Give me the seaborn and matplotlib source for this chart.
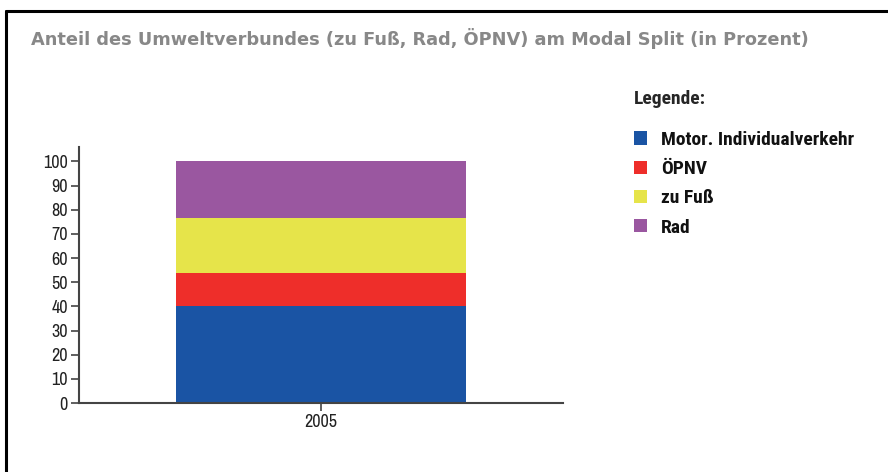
import matplotlib.pyplot as plt
import seaborn as sns
import pandas as pd
from matplotlib.patches import Patch
from matplotlib.lines import Line2D

sns.set_theme(style="white")
narrow = ["Archivo Narrow", "DejaVu Sans"]
narrow_bold = ["Roboto Condensed", "PT Sans Narrow", "DejaVu Sans"]

years = ["2005"]
modes = ["Motor. Individualverkehr", "ÖPNV", "zu Fuß", "Rad"]
shares = [40.0, 14.0, 22.5, 23.5]
colors = ["#1a54a4", "#ee2e2a", "#e6e44a", "#9a57a0"]

df = pd.DataFrame({"year": years * len(modes), "mode": modes, "share": shares})
df["top"] = df["share"].cumsum()

fig = plt.figure(figsize=(8.88, 4.72), dpi=100)
ax = fig.add_axes([79 / 888, 69 / 472, 484 / 888, 256 / 472])

# draw cumulative bars from the top segment down so they appear stacked
for i in reversed(range(len(modes))):
    sns.barplot(data=df.iloc[[i]], x="year", y="top", color=colors[i],
                width=0.6, saturation=1, ax=ax, linewidth=0)

ax.set_xlim(-0.5, 0.5)
ax.set_ylim(0, 106)
ax.set_yticks(range(0, 101, 10))
ax.set_xlabel("")
ax.set_ylabel("")
for s in ["top", "right"]:
    ax.spines[s].set_visible(False)
for s in ["left", "bottom"]:
    ax.spines[s].set_color("#444444")
    ax.spines[s].set_linewidth(1.5)
ax.tick_params(axis="both", direction="out", length=6, width=1.2, color="#444444",
               labelsize=13, labelcolor="#222222", pad=2, left=True, bottom=True)
for lab in ax.get_xticklabels() + ax.get_yticklabels():
    lab.set_family(narrow)

fig.text(31 / 888, 1 - 45 / 472, "Anteil des Umweltverbundes (zu Fuß, Rad, ÖPNV) am Modal Split (in Prozent)",
         fontsize=12.8, fontweight="bold", color="#888888", family=["DejaVu Sans"],
         va="baseline", ha="left")

handles = [Patch(facecolor=c, edgecolor="none") for c in colors]
leg = fig.legend(handles, modes, loc="upper left", bbox_to_anchor=(616 / 888, 1 - 73 / 472),
                 frameon=False, title="Legende:", handlelength=0.68, handleheight=0.68,
                 handletextpad=0.72, labelspacing=0.58,
                 prop={"family": narrow_bold, "weight": "bold", "size": 14},
                 title_fontproperties={"family": narrow_bold, "weight": "bold", "size": 14})
leg._legend_box.align = "left"
leg._legend_box.sep = 16
for t in leg.get_texts():
    t.set_color("#111111")

# outer frame (top and left edges only visible)
fig.add_artist(Line2D([6 / 888, 1], [1 - 10.5 / 472] * 2, color="black", lw=2.2))
fig.add_artist(Line2D([6 / 888] * 2, [0, 1 - 10.5 / 472], color="black", lw=2.2))

fig.savefig("out.png", dpi=100, facecolor="white")
